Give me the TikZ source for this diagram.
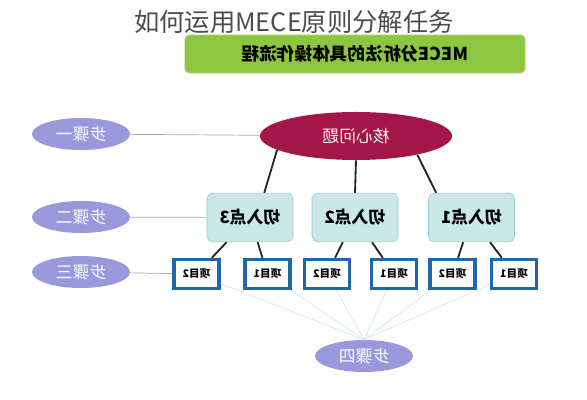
\documentclass[tikz,border=0pt]{standalone}
\usepackage{fontspec}
\usepackage{graphicx}
\setmainfont{Noto Sans CJK SC}
\usetikzlibrary{shapes.geometric}

\definecolor{steplav}{RGB}{152,152,218}
\definecolor{corered}{RGB}{163,22,72}
\definecolor{cutfill}{RGB}{202,232,232}
\definecolor{cutline}{RGB}{150,198,200}
\definecolor{itemblue}{RGB}{32,102,170}
\definecolor{bannergreen}{RGB}{141,198,63}
\definecolor{fanline}{RGB}{214,234,234}

\newcommand{\mirrortext}[1]{\reflectbox{#1}}

\begin{document}
\begin{tikzpicture}[x=0.025cm,y=-0.025cm,
    stepnode/.style={ellipse,fill=steplav,minimum width=2.45cm,minimum height=0.8cm,
      inner sep=0pt,text=white,font=\fontsize{12}{12}\selectfont},
    cutnode/.style={rectangle,rounded corners=4pt,fill=cutfill,draw=cutline,
      minimum width=2.15cm,minimum height=1.22cm,inner sep=0pt,
      font=\fontsize{12}{12}\selectfont\bfseries},
    itemnode/.style={rectangle,fill=white,draw=itemblue,line width=2.6pt,
      minimum width=1.12cm,minimum height=0.72cm,inner sep=0pt,
      font=\fontsize{7.5}{7.5}\selectfont\bfseries},
    tree/.style={line width=1.3pt,black!85},
    guide/.style={gray!70,line width=0.5pt},
    fan/.style={fanline,line width=0.6pt}]
  \useasboundingbox (0,0) rectangle (587,400);

  % title and banner
  \node[text=black!70,font=\fontsize{18}{18}\selectfont] (title) at (294,22) {如何运用MECE原则分解任务};
  \node[rectangle,rounded corners=3pt,fill=bannergreen,draw=bannergreen!70!white,
    minimum width=8.5cm,minimum height=0.95cm,font=\fontsize{12.6}{12.6}\selectfont\bfseries]
    (banner) at (355,54) {\mirrortext{MECE分析法的具体操作流程}};

  % core problem and entry points
  \node[ellipse,fill=corered,minimum width=4.8cm,minimum height=1.2cm,inner sep=0pt,
    text=white!90!pink,font=\fontsize{12}{12}\selectfont] (core) at (356,136) {\mirrortext{核心问题}};
  \node[cutnode] (cut3) at (250,217.5) {\mirrortext{切入点3}};
  \node[cutnode] (cut2) at (355,217.5) {\mirrortext{切入点2}};
  \node[cutnode] (cut1) at (471.5,217.5) {\mirrortext{切入点1}};

  % items
  \node[itemnode] (item1) at (196.5,274) {\mirrortext{项目2}};
  \node[itemnode] (item2) at (267.5,274) {\mirrortext{项目1}};
  \node[itemnode] (item3) at (327,274) {\mirrortext{项目2}};
  \node[itemnode] (item4) at (394,274) {\mirrortext{项目1}};
  \node[itemnode] (item5) at (452.5,274) {\mirrortext{项目2}};
  \node[itemnode] (item6) at (514,274) {\mirrortext{项目1}};

  % steps
  \node[stepnode] (s1) at (81,134) {\mirrortext{步骤一}};
  \node[stepnode] (s2) at (81,217) {\mirrortext{步骤二}};
  \node[stepnode] (s3) at (81,272) {\mirrortext{步骤三}};
  \node[stepnode] (s4) at (364,356) {\mirrortext{步骤四}};

  % tree lines
  \draw[tree] (core.190) -- (cut3.60);
  \draw[tree] (core.south) -- (cut2.north);
  \draw[tree] (core.343) -- (cut1.145);
  \draw[tree] (cut3) -- (item1);
  \draw[tree] (cut3) -- (item2);
  \draw[tree] (cut2) -- (item3);
  \draw[tree] (cut2) -- (item4);
  \draw[tree] (cut1) -- (item5);
  \draw[tree] (cut1) -- (item6);

  % step guides
  \draw[guide] (s1) -- (core);
  \draw[guide] (s2) -- (cut3);
  \draw[guide] (s3) -- (item1);
  \foreach \i in {1,...,6}
    \draw[fan] (item\i) -- (s4.north);
\end{tikzpicture}
\end{document}
